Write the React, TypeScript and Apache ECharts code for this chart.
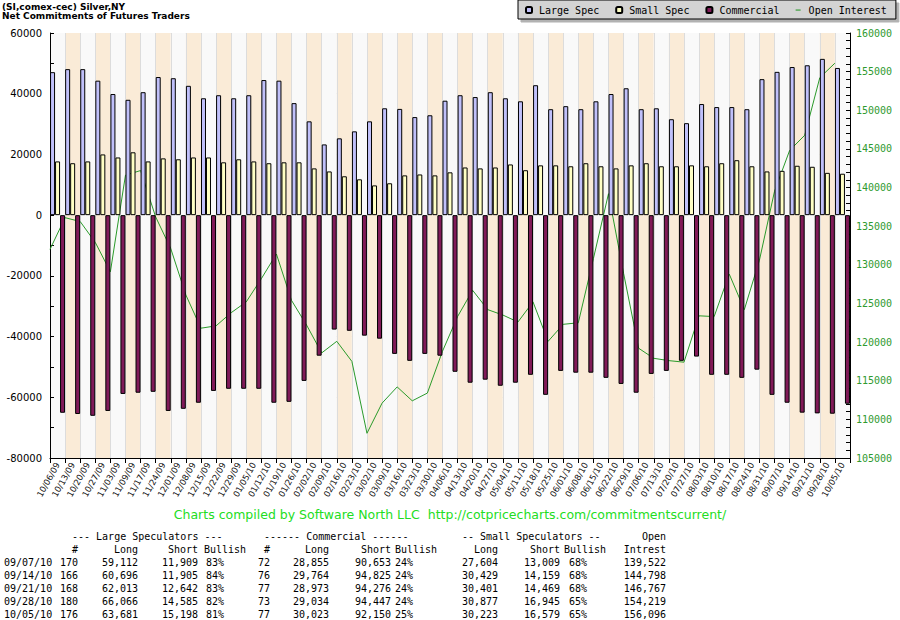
import React, { useEffect, useRef } from "react";
import * as echarts from "echarts";

const dates = [
  "10/06/09", "10/13/09", "10/20/09", "10/27/09", "11/03/09", "11/09/09", "11/17/09", "11/24/09",
  "12/01/09", "12/08/09", "12/15/09", "12/22/09", "12/29/09", "01/05/10", "01/12/10", "01/19/10",
  "01/26/10", "02/02/10", "02/09/10", "02/16/10", "02/23/10", "03/02/10", "03/09/10", "03/16/10",
  "03/23/10", "03/30/10", "04/06/10", "04/13/10", "04/20/10", "04/27/10", "05/04/10", "05/11/10",
  "05/18/10", "05/25/10", "06/01/10", "06/08/10", "06/15/10", "06/22/10", "06/29/10", "07/06/10",
  "07/13/10", "07/20/10", "07/27/10", "08/03/10", "08/10/10", "08/17/10", "08/24/10", "08/31/10",
  "09/07/10", "09/14/10", "09/21/10", "09/28/10", "10/05/10",
];

const largeSpec = [
  47100, 48100, 48100, 44300, 39900, 38000, 40500, 45500, 45100, 42600,
  38500, 39500, 38500, 39500, 44500, 44300, 36900, 30900, 23300, 25300,
  27600, 30900, 35200, 35000, 32300, 32900, 37700, 39500, 38900, 40500,
  38500, 37500, 42800, 34900, 35900, 34900, 37500, 39900, 41800, 34900,
  35200, 31600, 30300, 36600, 35600, 35600, 34900, 44800,
  47203, 48791, 49371, 51481, 48483,
];

const smallSpec = [
  17700, 17100, 17700, 20000, 19000, 20700, 17700, 18700, 18400, 19000,
  19000, 17400, 18400, 17700, 17100, 17400, 17400, 15400, 14400, 12800,
  11800, 9800, 10500, 13100, 13400, 13100, 14100,
  15700, 15400, 15700, 16700, 14800, 16400, 16400, 16100, 17100, 16100,
  15400, 16400, 17100, 16100, 16100, 16400, 16100, 17100, 18100, 16100, 14400,
  14595, 16270, 15932, 13932, 13644,
];

const commercial = [
  -65100, -65500, -66100, -64500, -58900, -58500, -58200, -64500, -63800, -61800,
  -57900, -57200, -57200, -57200, -61800, -61500, -54600, -46300, -37700, -38100,
  -39700, -40700, -45700, -48000, -45700, -46300,
  -51600, -55200, -54200, -56200, -55200, -52600, -59200, -51300, -51900, -51900,
  -53600, -55600, -58500, -52300, -51300, -48000, -46600, -52600, -52600, -53600,
  -50900, -59200,
  -61798, -65061, -65303, -65413, -62127,
];

const openInterest = [
  132000, 136100, 135600, 132900, 129100, 141600, 142200, 136200, 132100, 126100,
  121800, 122100, 123800, 125200, 128200, 131400, 125400, 122200, 118600, 120100,
  117500, 108200, 112100, 114200, 112400, 113400, 118800, 123300, 126700, 124200,
  123500, 122600, 125200, 120100, 122300, 122500, 130800, 139200, 128900, 119200,
  117900, 117600, 117400, 123400, 123300, 128800, 124200, 130600,
  139522, 144798, 146767, 154219, 156096,
];

const leftTicks = { min: -80000, max: 60000, interval: 20000 };
const rightTicks = { min: 105000, max: 160000, interval: 5000 };

// Table data
const tDates = ["09/07/10", "09/14/10", "09/21/10", "09/28/10", "10/05/10"];
const lsTraders = [170, 166, 168, 180, 176];
const lsLong = [59112, 60696, 62013, 66066, 63681];
const lsShort = [11909, 11905, 12642, 14585, 15198];
const lsBull = [83, 84, 83, 82, 81];
const cTraders = [72, 76, 77, 73, 77];
const cLong = [28855, 29764, 28973, 29034, 30023];
const cShort = [90653, 94825, 94276, 94447, 92150];
const cBull = [24, 24, 24, 24, 25];
const ssLong = [27604, 30429, 30401, 30877, 30223];
const ssShort = [13009, 14159, 14469, 16945, 16579];
const ssBull = [68, 68, 68, 65, 65];
const tOpenInt = [139522, 144798, 146767, 154219, 156096];

const fmt = (n: number) => n.toLocaleString("en-US");
const MONO = '10px "DejaVu Sans Mono"';

function txt(text: string, x: number, y: number, align: string, extra: any = {}) {
  return {
    type: "text",
    x,
    y,
    silent: true,
    style: {
      text,
      font: MONO,
      fill: "#000",
      align,
      verticalAlign: "middle",
      ...extra,
    },
  };
}

function buildTable() {
  const els: any[] = [];
  const h1 = 536;
  const h2 = 549;
  els.push(txt("--- Large Speculators ---", 72, h1, "left"));
  els.push(txt("------ Commercial ------", 264, h1, "left"));
  els.push(txt("-- Small Speculators --", 462, h1, "left"));
  els.push(txt("Open", 666, h1, "right"));
  els.push(txt("#", 78, h2, "right"));
  els.push(txt("Long", 138, h2, "right"));
  els.push(txt("Short", 198, h2, "right"));
  els.push(txt("Bullish", 204, h2, "left"));
  els.push(txt("#", 270, h2, "right"));
  els.push(txt("Long", 329, h2, "right"));
  els.push(txt("Short", 391, h2, "right"));
  els.push(txt("Bullish", 395, h2, "left"));
  els.push(txt("Long", 498, h2, "right"));
  els.push(txt("Short", 560, h2, "right"));
  els.push(txt("Bullish", 564, h2, "left"));
  els.push(txt("Intrest", 666, h2, "right"));
  tDates.forEach((d, i) => {
    const y = 562 + i * 13;
    els.push(txt(d, 4, y, "left"));
    els.push(txt(String(lsTraders[i]), 78, y, "right"));
    els.push(txt(fmt(lsLong[i]), 138, y, "right"));
    els.push(txt(fmt(lsShort[i]), 198, y, "right"));
    els.push(txt(lsBull[i] + "%", 206, y, "left"));
    els.push(txt(String(cTraders[i]), 270, y, "right"));
    els.push(txt(fmt(cLong[i]), 329, y, "right"));
    els.push(txt(fmt(cShort[i]), 391, y, "right"));
    els.push(txt(cBull[i] + "%", 395, y, "left"));
    els.push(txt(fmt(ssLong[i]), 498, y, "right"));
    els.push(txt(fmt(ssShort[i]), 560, y, "right"));
    els.push(txt(ssBull[i] + "%", 569, y, "left"));
    els.push(txt(fmt(tOpenInt[i]), 666, y, "right"));
  });
  return els;
}

export default function App() {
  const ref = useRef<HTMLDivElement>(null);
  useEffect(() => {
    if (!ref.current) return;
    const chart = echarts.init(ref.current, undefined, { renderer: "svg" });
    const barBorder = { borderColor: "#000", borderWidth: 1 };
    const option: any = {
      animation: false,
      backgroundColor: "#ffffff",
      textStyle: { fontFamily: "DejaVu Sans" },
      legend: {
        left: 518,
        top: 0,
        padding: [5, 9, 4, 7],
        itemWidth: 6,
        itemHeight: 6,
        itemGap: 16,
        backgroundColor: "#d3d3d3",
        borderColor: "#000",
        borderWidth: 1,
        shadowColor: "rgba(0,0,0,0.3)",
        shadowOffsetX: 3,
        shadowOffsetY: 3,
        shadowBlur: 0,
        textStyle: { fontFamily: "DejaVu Sans Mono", fontSize: 10, color: "#000", padding: [0, 0, 0, 2] },
        data: [
          { name: "Large Spec" },
          { name: "Small Spec" },
          { name: "Commercial" },
          {
            name: "Open Interest",
            icon: "path://M0,0L0,0M0,2.5L5,2.5L5,3.6L0,3.6ZM6,6L6,6",
            itemStyle: { color: "#2a9a2a", borderWidth: 0 },
          },
        ],
      },
      grid: { left: 50, right: 50, top: 33, bottom: 162 },
      xAxis: [
        {
          type: "category",
          data: dates,
          boundaryGap: true,
          axisLine: { onZero: false, lineStyle: { color: "#000", width: 1 } },
          axisTick: { show: true, length: 5, lineStyle: { color: "#000" } },
          axisLabel: {
            rotate: 61,
            interval: 0,
            fontSize: 8.5,
            fontFamily: "DejaVu Sans",
            color: "#111",
            margin: 5,
          },
          splitLine: { show: true, lineStyle: { color: "#dcdcdc" } },
          splitArea: { show: true, areaStyle: { color: ["#f9f9f9", "#faebd7"] } },
        },
        { type: "value", min: 0, max: dates.length, show: false },
      ],
      yAxis: [
        {
          type: "value",
          min: leftTicks.min,
          max: leftTicks.max,
          interval: leftTicks.interval,
          axisLine: { show: true, lineStyle: { color: "#000" } },
          axisTick: { show: true, inside: true, length: 4, lineStyle: { color: "#000" } },
          minorTick: { show: true, splitNumber: 2, length: 4, lineStyle: { color: "#000" } },
          axisLabel: {
            fontSize: 10,
            fontFamily: "DejaVu Sans",
            color: "#000",
            margin: 8,
            formatter: (v: number) => String(v),
          },
          splitLine: { show: true, lineStyle: { color: "#dcdcdc" } },
        },
        {
          type: "value",
          position: "right",
          min: rightTicks.min,
          max: rightTicks.max,
          interval: rightTicks.interval,
          axisLine: { show: true, lineStyle: { color: "#000" } },
          axisTick: { show: true, inside: true, length: 4, lineStyle: { color: "#000" } },
          minorTick: { show: true, splitNumber: 5, length: 4, lineStyle: { color: "#000" } },
          axisLabel: {
            fontSize: 10,
            fontFamily: "DejaVu Sans Mono",
            color: "#2f9a2f",
            margin: 6,
            formatter: (v: number) => String(v),
          },
          splitLine: { show: false },
        },
      ],
      series: [
        {
          name: "Large Spec",
          type: "bar",
          data: largeSpec,
          barWidth: 5,
          barGap: "0%",
          z: 3,
          itemStyle: { color: "#c0c0fa", ...barBorder },
        },
        {
          name: "Small Spec",
          type: "bar",
          data: smallSpec,
          barWidth: 5,
          barGap: "0%",
          z: 3,
          itemStyle: { color: "#ffffc4", ...barBorder },
        },
        {
          name: "Commercial",
          type: "bar",
          data: commercial,
          barWidth: 5,
          barGap: "0%",
          z: 3,
          itemStyle: { color: "#801a58", ...barBorder },
        },
        {
          name: "Open Interest",
          type: "line",
          xAxisIndex: 1,
          yAxisIndex: 1,
          data: openInterest.map((v, i) => [i, v]),
          showSymbol: false,
          symbol: "none",
          z: 1,
          itemStyle: { color: "#2a9a2a" },
          lineStyle: { color: "#2a9a2a", width: 1 },
        },
      ],
      graphic: [
        {
          type: "text",
          x: 2,
          y: 2,
          silent: true,
          style: { text: "(SI,comex-cec) Silver,NY", font: 'bold 9px "DejaVu Sans"', fill: "#000", align: "left", verticalAlign: "top" },
        },
        {
          type: "text",
          x: 2,
          y: 11.5,
          silent: true,
          style: { text: "Net Commitments of Futures Traders", font: 'bold 9px "DejaVu Sans"', fill: "#000", align: "left", verticalAlign: "top" },
        },
        {
          type: "text",
          x: 450,
          y: 514,
          silent: true,
          style: {
            text: "Charts compiled by Software North LLC  http://cotpricecharts.com/commitmentscurrent/",
            font: '12.5px "DejaVu Sans"',
            fill: "#22dd22",
            align: "center",
            verticalAlign: "middle",
          },
        },
        ...buildTable(),
      ],
    };
    chart.setOption(option);
    return () => chart.dispose();
  }, []);
  return (
    <div
      ref={ref}
      style={{ position: "absolute", left: 0, top: 0, width: 900, height: 620 }}
    />
  );
}
